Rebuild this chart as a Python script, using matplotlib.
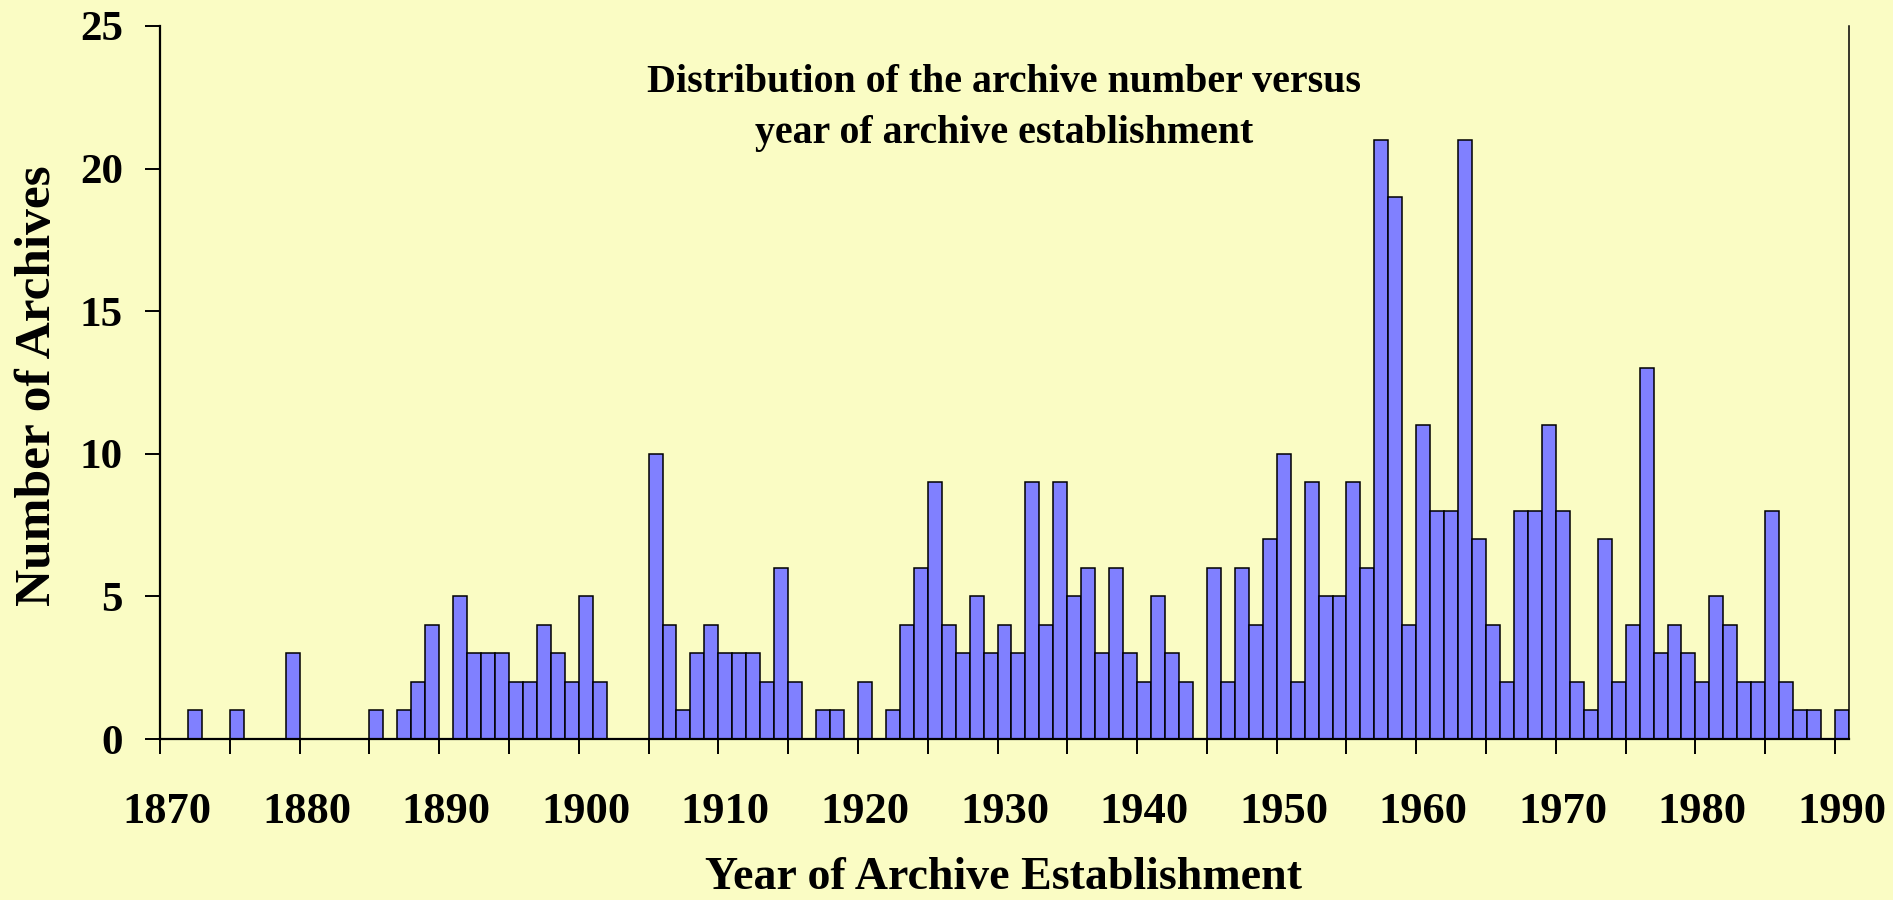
import matplotlib
matplotlib.use("Agg")
import matplotlib.pyplot as plt
import numpy as np
from matplotlib.ticker import FixedLocator

# ---- data ----
years = list(range(1870, 1991))
counts = [
    0, 0, 1, 0, 0, 1, 0, 0, 0, 3,      # 1870-1879
    0, 0, 0, 0, 0, 1, 0, 1, 2, 4,      # 1880-1889
    0, 5, 3, 3, 3, 2, 2, 4, 3, 2,      # 1890-1899
    5, 2, 0, 0, 0, 10, 4, 1, 3, 4,     # 1900-1909
    3, 3, 3, 2, 6, 2, 0, 1, 1, 0,      # 1910-1919
    2, 0, 1, 4, 6, 9, 4, 3, 5, 3,      # 1920-1929
    4, 3, 9, 4, 9, 5, 6, 3, 6, 3,      # 1930-1939
    2, 5, 3, 2, 0, 6, 2, 6, 4, 7,      # 1940-1949
    10, 2, 9, 5, 5, 9, 6, 21, 19, 4,   # 1950-1959
    11, 8, 8, 21, 7, 4, 2, 8, 8, 11,   # 1960-1969
    8, 2, 1, 7, 2, 4, 13, 3, 4, 3,     # 1970-1979
    2, 5, 4, 2, 2, 8, 2, 1, 1, 0,      # 1980-1989
    1,                                  # 1990
]
year_labels = [str(y) for y in range(1870, 1991, 10)]
y_ticks = [0, 5, 10, 15, 20, 25]

title_text = "Distribution of the archive number versus\nyear of archive establishment"
x_label = "Year of Archive Establishment"
y_label = "Number of Archives"

# ---- style ----
bg = "#FAFCC4"
bar_color = "#8080FF"
serif = ["Liberation Serif", "DejaVu Serif"]

fig = plt.figure(figsize=(18.93, 9.0), dpi=100, facecolor=bg)
ax = fig.add_axes([160 / 1893, 161 / 900, 1689 / 1893, 713 / 900])
ax.set_facecolor(bg)

ax.bar(years, counts, width=1.0, color=bar_color, edgecolor="black",
       linewidth=1.1, align="center", zorder=2)

ax.set_xlim(1869.5, 1990.5)
ax.set_ylim(0, 25)

# x: labels at every 10 years (category centres), tick marks between categories every 5
label_pos = list(range(1870, 1991, 10))
ax.set_xticks(label_pos)
ax.set_xticklabels(year_labels)
ax.xaxis.set_minor_locator(FixedLocator([1869.5 + 5 * k for k in range(25)]))
ax.tick_params(axis="x", which="major", length=0, pad=38)
ax.tick_params(axis="x", which="minor", length=10.8, width=1.4,
               direction="out", color="black")

ax.set_yticks(y_ticks)
ax.tick_params(axis="y", which="major", length=10.8, width=1.4,
               direction="out", pad=16)

for lbl in ax.get_xticklabels():
    lbl.set_fontfamily(serif)
    lbl.set_fontweight("bold")
    lbl.set_fontsize(32)
for lbl in ax.get_yticklabels():
    lbl.set_fontfamily(serif)
    lbl.set_fontweight("bold")
    lbl.set_fontsize(31)

ax.spines["top"].set_visible(False)
ax.spines["left"].set_linewidth(1.6)
ax.spines["bottom"].set_linewidth(1.6)
ax.spines["right"].set_linewidth(1.1)

fig.text(1004 / 1893, 1 - 878 / 900, x_label, ha="center", va="center",
         fontsize=33, fontweight="bold", family=serif)
fig.text(38 / 1893, 1 - 386 / 900, y_label, ha="center", va="center",
         rotation=90, fontsize=37, fontweight="bold", family=serif)
fig.text(1004 / 1893, 1 - 108 / 900, title_text, ha="center", va="center",
         fontsize=28.7, fontweight="bold", family=serif, linespacing=1.5)

fig.savefig("out.png", dpi=100, facecolor=bg)
